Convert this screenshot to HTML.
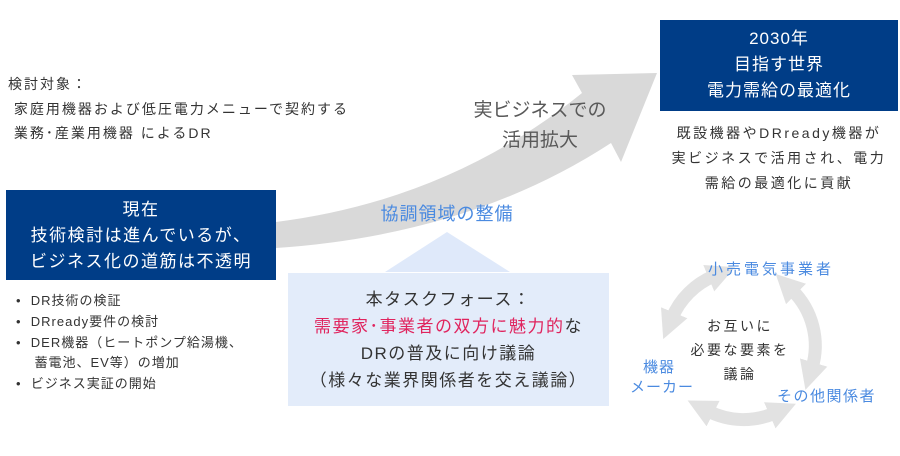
<!DOCTYPE html>
<html><head><meta charset="utf-8"><style>
body{margin:0;width:900px;height:456px;background:#fff;position:relative;overflow:hidden;font-family:"Liberation Sans","Noto Sans CJK JP",sans-serif;color:#333}
.a{position:absolute;white-space:nowrap}
.box{position:absolute;background:#003d87;color:#fff;text-align:center}
</style></head><body>
<svg width="900" height="456" style="position:absolute;left:0;top:0">
<defs><marker id="m" viewBox="0 0 10 10" refX="2" refY="5" markerWidth="2.2" markerHeight="2.2" orient="auto-start-reverse"><path d="M0,0L10,5L0,10z" fill="#e2e2e2"/></marker></defs>
<path d="M276,222 Q450,200 582,93 L572,75 L657,73 L621,162 L611,143 Q470,235 276,248 Z" fill="#d9d9d9"/>
<path d="M447,232 L510,272 L385,272 Z" fill="#dfe9fa"/>
<rect x="288" y="273" width="321" height="133" fill="#e3ecfa"/>
<g fill="none" stroke="#e2e2e2" stroke-width="13">
<path d="M672,318 A78,78 0 0 1 714,276" marker-start="url(#m)" marker-end="url(#m)"/>
<path d="M792,290 A78,78 0 0 1 812,368" marker-start="url(#m)" marker-end="url(#m)"/>
<path d="M775,413 A78,78 0 0 1 708,411" marker-start="url(#m)" marker-end="url(#m)"/>
</g>
</svg>
<div class="a" style="left:8px;top:72px;font-size:14px;line-height:24.5px;letter-spacing:2px">検討対象：<br>&nbsp;家庭用機器および低圧電力メニューで契約する<br>&nbsp;業務･産業用機器 によるDR</div>
<div class="box" style="left:6px;top:190px;width:270px;height:90px;font-size:17px;line-height:26px;padding-top:7px;box-sizing:border-box;letter-spacing:1.5px">現在<br>技術検討は進んでいるが、<br>ビジネス化の道筋は不透明</div>
<div class="a" style="left:16px;top:291px;font-size:13px;line-height:20.8px;letter-spacing:1px">•&nbsp;&nbsp;DR技術の検証<br>•&nbsp;&nbsp;DRready要件の検討<br>•&nbsp;&nbsp;DER機器（ヒートポンプ給湯機、<br>&nbsp;&nbsp;&nbsp;&nbsp;蓄電池、EV等）の増加<br>•&nbsp;&nbsp;ビジネス実証の開始</div>
<div class="a" style="left:460px;top:96px;width:160px;text-align:center;font-size:19px;line-height:30px;color:#595959">実ビジネスでの<br>活用拡大</div>
<div class="a" style="left:357px;top:200px;width:180px;text-align:center;font-size:18px;color:#4a8ae0;letter-spacing:1px">協調領域の整備</div>
<div class="box" style="left:660px;top:20px;width:238px;height:91px;font-size:17px;line-height:26px;padding-top:6px;box-sizing:border-box;letter-spacing:1px">2030年<br>目指す世界<br>電力需給の最適化</div>
<div class="a" style="left:660px;top:121px;width:238px;text-align:center;font-size:14px;line-height:25px;letter-spacing:2.5px">既設機器やDRready機器が<br>実ビジネスで活用され、電力<br>需給の最適化に貢献</div>
<div class="a" style="left:288px;top:286px;width:321px;text-align:center;font-size:17px;line-height:27px;letter-spacing:1.5px">本タスクフォース：<br><span style="color:#e0245e">需要家･事業者の双方に魅力的</span>な<br>DRの普及に向け議論<br>（様々な業界関係者を交え議論）</div>
<div class="a" style="left:708px;top:258px;font-size:15px;color:#4a8ae0;letter-spacing:3px">小売電気事業者</div>
<div class="a" style="left:777px;top:385px;font-size:15px;color:#4a8ae0;letter-spacing:1.5px">その他関係者</div>
<div class="a" style="left:630px;top:358px;width:58px;text-align:center;font-size:15px;line-height:20px;color:#4a8ae0;letter-spacing:1px">機器<br>メーカー</div>
<div class="a" style="left:675px;top:314px;width:130px;text-align:center;font-size:14px;line-height:24px;letter-spacing:2.5px">お互いに<br>必要な要素を<br>議論</div>
</body></html>
